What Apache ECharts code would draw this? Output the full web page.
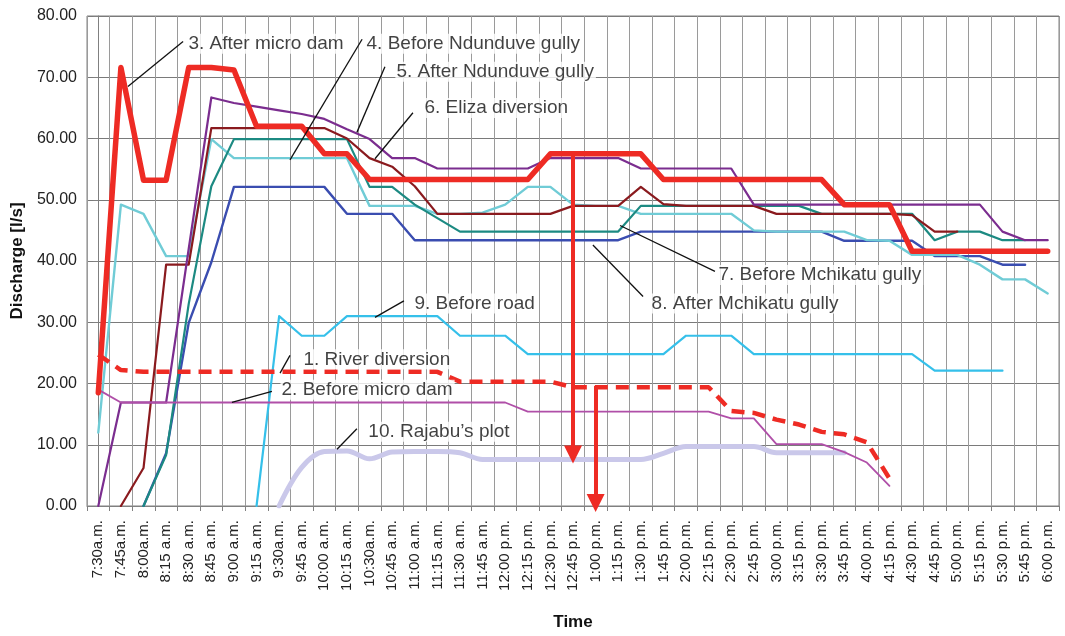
<!DOCTYPE html>
<html>
<head>
<meta charset="utf-8">
<script src="https://cdn.jsdelivr.net/npm/echarts@6/dist/echarts.min.js"></script>
<style>
  html, body { margin: 0; padding: 0; background: #fff; }
  #chart { width: 1065px; height: 636px; }
</style>
</head>
<body>
<div id="chart"></div>
<script>
// Sampling times, every 15 minutes
const times = [
  '7:30a.m.', '7:45a.m.', '8:00a.m.', '8:15 a.m.', '8:30 a.m.', '8:45 a.m.', '9:00 a.m.',
  '9:15 a.m.', '9:30a.m.', '9:45 a.m.', '10:00 a.m.', '10:15 a.m.', '10:30a.m.', '10:45 a.m.',
  '11:00 a.m.', '11:15 a.m.', '11:30 a.m.', '11:45 a.m.', '12:00 p.m.', '12:15 p.m.', '12:30 p.m.',
  '12:45 p.m.', '1:00 p.m.', '1:15 p.m.', '1:30 p.m.', '1:45 p.m.', '2:00 p.m.', '2:15 p.m.',
  '2:30 p.m.', '2:45 p.m.', '3:00 p.m.', '3:15 p.m.', '3:30 p.m.', '3:45 p.m.', '4:00 p.m.',
  '4:15 p.m.', '4:30 p.m.', '4:45 p.m.', '5:00 p.m.', '5:15 p.m.', '5:30 p.m.', '5:45 p.m.', '6:00 p.m.'
];

const yTicks = [0, 10, 20, 30, 40, 50, 60, 70, 80];

// Discharge [l/s] at each monitoring point (null = not measured)
const riverDiversion = [24.7, 22.2, 21.9, 21.9, 21.9, 21.9, 21.9, 21.9, 21.9, 21.9, 21.9, 21.9, 21.9, 21.9,
  21.9, 21.9, 20.3, 20.3, 20.3, 20.3, 20.3, 19.4, 19.4, 19.4, 19.4, 19.4, 19.4, 19.4,
  15.5, 15.2, 14.1, 13.3, 12.1, 11.7, 10.4, 4.5, null, null, null, null, null, null, null];

const beforeMicroDam = [19, 16.9, 16.9, 16.9, 16.9, 16.9, 16.9, 16.9, 16.9, 16.9, 16.9, 16.9, 16.9, 16.9,
  16.9, 16.9, 16.9, 16.9, 16.9, 15.4, 15.4, 15.4, 15.4, 15.4, 15.4, 15.4, 15.4, 15.4,
  14.3, 14.3, 10.1, 10.1, 10.1, 8.8, 7.1, 3.3, null, null, null, null, null, null, null];

const afterMicroDam = [18.5, 71.6, 53.2, 53.2, 71.6, 71.6, 71.2, 62, 62, 62, 57.5, 57.5, 53.3, 53.3,
  53.3, 53.3, 53.3, 53.3, 53.3, 53.3, 57.5, 57.5, 57.5, 57.5, 57.5, 53.3, 53.3, 53.3,
  53.3, 53.3, 53.3, 53.3, 53.3, 49.2, 49.2, 49.2, 41.6, 41.6, 41.6, 41.6, 41.6, 41.6, 41.6];

const beforeNdunduve = [12, 49.2, 47.7, 40.8, 40.8, 59.9, 56.8, 56.8, 56.8, 56.8, 56.8, 56.8, 49, 49,
  49, 47.7, 47.7, 47.9, 49.2, 52.1, 52.1, 49.2, 49, 49, 47.7, 47.7, 47.7, 47.7,
  47.7, 45, 44.8, 44.8, 44.8, 44.8, 43.4, 43.3, 41, 41, 41, 39.4, 37, 37, 34.7];

const afterNdunduve = [0, 16.9, 16.9, 16.9, 42, 66.7, 65.8, 65.2, 64.6, 64, 63.2, 61.5, 59.9, 56.8,
  56.8, 55.1, 55.1, 55.1, 55.1, 55.1, 56.8, 56.8, 56.8, 56.8, 55.1, 55.1, 55.1, 55.1,
  55.1, 49.2, 49.2, 49.2, 49.2, 49.2, 49.2, 49.2, 49.2, 49.2, 49.2, 49.2, 44.8, 43.4, 43.4];

const elizaDiversion = [null, 0, 6.2, 39.4, 39.4, 61.7, 61.7, 61.7, 61.7, 61.7, 61.7, 60, 56.8, 55.4,
  52.2, 47.7, 47.7, 47.7, 47.7, 47.7, 47.7, 49, 49, 49, 52.1, 49.3, 49, 49,
  49, 49, 47.7, 47.7, 47.7, 47.7, 47.7, 47.7, 47.5, 44.8, 44.8, null, null, null, null];

const beforeMchikatu = [null, null, 0, 8.3, 33, 52.2, 59.9, 59.9, 59.9, 59.9, 59.9, 59.9, 52.1, 52.1,
  49.2, 47, 44.8, 44.8, 44.8, 44.8, 44.8, 44.8, 44.8, 44.8, 49, 49, 49, 49,
  49, 49, 49, 49, 47.7, 47.7, 47.7, 47.7, 47.7, 43.4, 44.8, 44.8, 43.4, 43.4, null];

const afterMchikatu = [null, null, 0, 8.6, 29.9, 39.8, 52.1, 52.1, 52.1, 52.1, 52.1, 47.7, 47.7, 47.7,
  43.4, 43.4, 43.4, 43.4, 43.4, 43.4, 43.4, 43.4, 43.4, 43.4, 44.8, 44.8, 44.8, 44.8,
  44.8, 44.8, 44.8, 44.8, 44.8, 43.3, 43.3, 43.3, 43.3, 40.8, 40.8, 40.8, 39.4, 39.4, null];

const beforeRoad = [null, null, null, null, null, null, null, 0, 31, 27.8, 27.8, 31, 31, 31,
  31, 31, 27.8, 27.8, 27.8, 24.8, 24.8, 24.8, 24.8, 24.8, 24.8, 24.8, 27.8, 27.8,
  27.8, 24.8, 24.8, 24.8, 24.8, 24.8, 24.8, 24.8, 24.8, 22.1, 22.1, 22.1, 22.1, null, null];

const rajabusPlot = [null, null, null, null, null, null, null, null, 0, 6.3, 8.9, 9.0, 7.7, 8.8,
  8.9, 8.9, 8.7, 7.6, 7.6, 7.6, 7.6, 7.6, 7.6, 7.6, 7.6, 8.6, 9.7, 9.7,
  9.7, 9.7, 8.7, 8.7, 8.7, 8.7, null, null, null, null, null, null, null, null, null];

// Vertical arrows: [time, from value, to value]
const arrows = [
  ['12:45 p.m.', 57.5, 8.4],
  ['1:00 p.m.', 19.6, 0.5]
];

// Callout labels: text, text anchor [time index, value], leader start, leader end
const calloutText = ['3. After micro dam', '4. Before Ndunduve gully', '5. After Ndunduve gully',
  '6. Eliza diversion', '7. Before Mchikatu gully', '8. After Mchikatu gully', '9. Before road',
  '1. River diversion', '2. Before micro dam', '10. Rajabu\u2019s plot'];
const calloutAt = [[3.92, 75.45], [11.80, 75.45], [13.12, 70.9], [14.36, 65.0], [27.37, 37.7],
  [24.41, 33.05], [13.92, 33.05], [9.01, 23.95], [8.04, 19.0], [11.88, 12.14]];
const leaderFrom = [[3.75, 75.85], [11.67, 76.2], [12.68, 71.7], [13.92, 64.2], [27.28, 38.3],
  [24.1, 34.2], [13.52, 33.5], [8.48, 24.6], [7.68, 18.7], [11.44, 12.6]];
const leaderTo = [[1.31, 68.5], [8.48, 56.5], [11.44, 61.0], [12.24, 56.7], [23.08, 45.8],
  [21.88, 42.6], [12.24, 30.8], [8.04, 21.7], [5.91, 16.9], [10.56, 9.26]];

const FONT = 'Liberation Sans, Arial, Helvetica, sans-serif';

function line(name, data, color, width, extra) {
  return Object.assign({
    name: name,
    type: 'line',
    data: data,
    symbol: 'none',
    connectNulls: false,
    lineStyle: { color: color, width: width, cap: 'round', join: 'round' },
    itemStyle: { color: color },
    emphasis: { disabled: true },
    silent: true
  }, extra || {});
}

const chart = echarts.init(document.getElementById('chart'), null, { renderer: 'canvas' });

chart.setOption({
  animation: false,
  backgroundColor: '#fff',
  grid: { left: 87, top: 16, width: 972, height: 501, show: true, borderColor: '#808080', borderWidth: 1 },
  xAxis: [{
    type: 'category',
    data: times,
    boundaryGap: true,
    name: 'Time',
    nameLocation: 'middle',
    nameGap: 108,
    nameTextStyle: { fontFamily: FONT, fontSize: 17, fontWeight: 'bold', color: '#111' },
    axisLine: { lineStyle: { color: '#808080' } },
    axisTick: { show: true, length: 5, lineStyle: { color: '#808080' } },
    axisLabel: { interval: 0, rotate: 90, margin: 14, fontFamily: FONT, fontSize: 15, color: '#222' },
    splitLine: { show: true, interval: 0, lineStyle: { color: '#9a9a9a', width: 1 } }
  }, {
    type: 'value',
    min: -0.5,
    max: 42.5,
    show: false
  }],
  yAxis: [{
    type: 'value',
    min: yTicks[0],
    max: yTicks[yTicks.length - 1],
    interval: yTicks[1] - yTicks[0],
    name: 'Discharge [l/s]',
    nameLocation: 'middle',
    nameGap: 54,
    nameTextStyle: { fontFamily: FONT, fontSize: 17, fontWeight: 'bold', color: '#111' },
    axisLine: { show: true, lineStyle: { color: '#808080' } },
    axisTick: { show: true, length: 5, lineStyle: { color: '#808080' } },
    axisLabel: { margin: 10, fontFamily: FONT, fontSize: 16, color: '#222',
      formatter: v => v.toFixed(2) },
    splitLine: { show: true, lineStyle: { color: '#7a7a7a', width: 1 } }
  }],
  series: [
    line('10. Rajabu\u2019s plot', rajabusPlot, '#cac8ea', 5, { smooth: 0.35, z: 2 }),
    line('9. Before road', beforeRoad, '#35c0ea', 2.2, { z: 3 }),
    line('8. After Mchikatu gully', afterMchikatu, '#3a4db0', 2.4, { z: 3 }),
    line('4. Before Ndunduve gully', beforeNdunduve, '#70ccd6', 2.4, { z: 3 }),
    line('7. Before Mchikatu gully', beforeMchikatu, '#1c8a82', 2.2, { z: 3 }),
    line('6. Eliza diversion', elizaDiversion, '#8a1a1e', 2.2, { z: 3 }),
    line('5. After Ndunduve gully', afterNdunduve, '#7b2d8f', 2.2, { z: 3 }),
    line('2. Before micro dam', beforeMicroDam, '#b04fa8', 1.8, { z: 3 }),
    line('1. River diversion', riverDiversion, '#ee2b24', 4.5, {
      z: 4,
      lineStyle: { color: '#ee2b24', width: 4.5, type: [13, 8], cap: 'butt' }
    }),
    line('3. After micro dam', afterMicroDam, '#ee2b24', 5.5, {
      z: 5,
      markLine: {
        silent: true,
        animation: false,
        symbol: ['none', 'triangle'],
        symbolSize: 18,
        label: { show: false },
        lineStyle: { color: '#ee2b24', width: 4, type: 'solid' },
        itemStyle: { color: '#ee2b24' },
        emphasis: { disabled: true },
        data: arrows.map(a => [
          { coord: [a[0], a[1]], symbol: 'none' },
          { coord: [a[0], a[2]], symbol: 'triangle', symbolSize: 18 }
        ])
      }
    }),
    {
      name: 'leaders',
      type: 'lines',
      coordinateSystem: 'cartesian2d',
      xAxisIndex: 1,
      yAxisIndex: 0,
      silent: true,
      z: 6,
      lineStyle: { color: '#111', width: 1.3, opacity: 1, curveness: 0 },
      data: leaderFrom.map((p, i) => ({ coords: [p, leaderTo[i]] }))
    },
    {
      name: 'callouts',
      type: 'scatter',
      xAxisIndex: 1,
      yAxisIndex: 0,
      silent: true,
      z: 7,
      symbolSize: 1,
      itemStyle: { color: 'rgba(0,0,0,0)' },
      data: calloutAt.map((p, i) => [p[0], p[1], calloutText[i]]),
      label: {
        show: true,
        position: 'right',
        distance: 0,
        formatter: p => p.data[2],
        fontFamily: FONT,
        fontSize: 19,
        color: '#111',
        backgroundColor: '#fff',
        padding: [1, 2, 0, 1]
      }
    }
  ]
});
</script>
</body>
</html>
